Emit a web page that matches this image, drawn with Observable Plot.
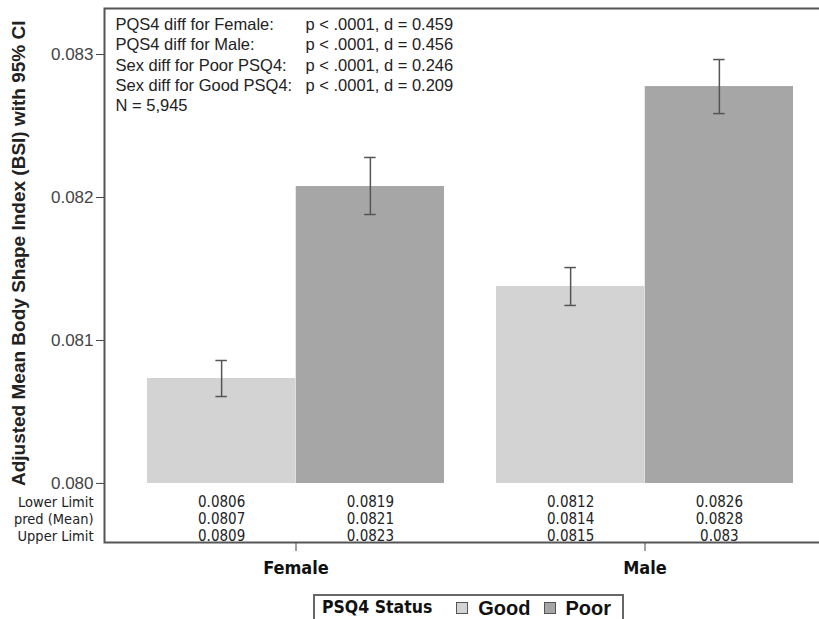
<!DOCTYPE html>
<html><head><meta charset="utf-8">
<script src="https://cdn.jsdelivr.net/npm/d3@7"></script>
<script src="https://cdn.jsdelivr.net/npm/@observablehq/plot@0.6"></script>
<style>
body{margin:0;background:#fff;}
#wrap{position:relative;width:819px;height:619px;overflow:hidden;background:#fff;}
#legend{position:absolute;left:313px;top:594px;width:311px;height:28px;border:2px solid #666;box-sizing:border-box;
  font-family:"Liberation Sans Narrow","DejaVu Sans Condensed","Liberation Sans",Arial,sans-serif;font-weight:bold;color:#111;
  display:flex;align-items:center;padding:0 0 0 7px;white-space:nowrap;line-height:1;}
#legend .t{font-size:17.5px;margin-right:24px;flex-shrink:0;}
#legend .sw{display:inline-block;flex:0 0 12px;width:12px;height:12px;border:1px solid #555;margin-right:10px;box-sizing:border-box;}
#legend .k{font-family:"Liberation Sans",Arial,sans-serif;font-size:20px;margin-right:13px;flex-shrink:0;}
</style></head><body><div id="wrap"><div id="chart"></div><div id="legend"></div></div>
<script>
// ---- data ----
const sexes = ["Female", "Male"];
const statuses = ["Good", "Poor"];
const barSex = ["Female", "Female", "Male", "Male"];
const barStatus = ["Good", "Poor", "Good", "Poor"];
const meanBSI = [0.080734, 0.082077, 0.081378, 0.082776];
const lowerCI = [0.080608, 0.081881, 0.081245, 0.082587];
const upperCI = [0.080860, 0.082280, 0.081510, 0.082965];
const lowerText = ["0.0806", "0.0819", "0.0812", "0.0826"];
const meanText = ["0.0807", "0.0821", "0.0814", "0.0828"];
const upperText = ["0.0809", "0.0823", "0.0815", "0.083"];
const rowNames = ["Lower Limit", "pred (Mean)", "Upper Limit"];
const yTicks = [0.080, 0.081, 0.082, 0.083];
const statsLabels = ["PQS4 diff for Female:", "PQS4 diff for Male:", "Sex diff for Poor PSQ4:", "Sex diff for Good PSQ4:", "N = 5,945"];
const statsValues = ["p < .0001, d = 0.459", "p < .0001, d = 0.456", "p < .0001, d = 0.246", "p < .0001, d = 0.209", ""];
const yLabel = "Adjusted Mean Body Shape Index (BSI) with 95% CI";
const legendTitle = "PSQ4 Status";
const colors = ["#d3d3d3", "#a6a6a6"];

// ---- layout ----
const W = 819, H = 590, mL = 104, mR = -16, mT = 8, mB = 48;
const padIn = 0.149, padOut = 0.12;
const bw = d3.scaleBand(sexes, [mL, W - mR]).paddingInner(padIn).paddingOuter(padOut).bandwidth();
const half = bw / 2, quarter = bw / 4, cap = 6;

const data = barSex.map((s, i) => ({
  sex: s, status: barStatus[i], mean: meanBSI[i], lo: lowerCI[i], hi: upperCI[i],
  tLo: lowerText[i], tMean: meanText[i], tHi: upperText[i]
}));
const good = data.filter(d => d.status === "Good");
const poor = data.filter(d => d.status === "Poor");
const base = yTicks[0];
const narrow = "'Liberation Sans Narrow','DejaVu Sans Condensed','Liberation Sans',Arial,sans-serif";
const rowDy = [18.5, 35.5, 53];

function groupMarks(rows, side) {
  const off = side * quarter;
  return [
    Plot.barY(rows, {x: "sex", y1: () => base, y2: "mean", fill: "status",
      insetLeft: side > 0 ? half : 0, insetRight: side < 0 ? half : 0}),
    Plot.ruleX(rows, {x: "sex", y1: "lo", y2: "hi", dx: off, stroke: "#555", strokeWidth: 1.5}),
    Plot.tickY(rows, {x: "sex", y: "lo", stroke: "#555", strokeWidth: 1.5,
      insetLeft: half + off - cap, insetRight: half - off - cap}),
    Plot.tickY(rows, {x: "sex", y: "hi", stroke: "#555", strokeWidth: 1.5,
      insetLeft: half + off - cap, insetRight: half - off - cap}),
    ...["tLo", "tMean", "tHi"].map((k, j) => Plot.text(rows, {x: "sex", y: () => base, text: k,
      dx: off, dy: rowDy[j], fontFamily: narrow, fontSize: 15, fill: "#222"}))
  ];
}

const chart = Plot.plot({
  width: W, height: H, marginLeft: mL, marginRight: mR, marginTop: mT, marginBottom: mB,
  style: {fontFamily: "'Liberation Sans',Arial,sans-serif", fontSize: "16px", color: "#333", background: "#fff"},
  x: {domain: sexes, paddingInner: padIn, paddingOuter: padOut},
  y: {domain: [0.079587, 0.083322]},
  color: {domain: statuses, range: colors},
  marks: [
    ...groupMarks(good, -1),
    ...groupMarks(poor, 1),
    Plot.axisY({ticks: yTicks, tickFormat: d3.format(".3f"), tickSize: 8, tickPadding: 3,
      fontSize: 17, label: null, stroke: "#444", fill: "#444"}),
    Plot.axisX({tickSize: 9, tickPadding: 10, label: null, fontWeight: "bold",
      fontSize: 18, fontFamily: narrow, fill: "#111", stroke: "#444"}),
    ...rowNames.map((r, j) => Plot.text([r], {frameAnchor: "left", y: () => base, text: d => d,
      dx: -11, dy: rowDy[j], textAnchor: "end", fontFamily: narrow, fontSize: 14.5, fill: "#222"})),
    Plot.text([yLabel], {frameAnchor: "left", y: () => 0.08161, text: d => d, rotate: -90, dx: -86,
      textAnchor: "middle", fontWeight: "bold", fontSize: 19, fill: "#222"}),
    Plot.text([statsLabels.join("\n")], {frameAnchor: "top-left", text: d => d, dx: 11, dy: 7.5,
      lineAnchor: "top", lineHeight: 1.22, fontSize: 16.5, fill: "#222"}),
    Plot.text([statsValues.join("\n")], {frameAnchor: "top-left", text: d => d, dx: 201, dy: 7.5,
      lineAnchor: "top", lineHeight: 1.22, fontSize: 16.5, fill: "#222"}),
    Plot.frame({stroke: "#555", strokeWidth: 2})
  ]
});
document.getElementById("chart").appendChild(chart);

// legend
const lg = d3.select("#legend");
lg.append("span").attr("class", "t").text(legendTitle);
statuses.forEach((s, i) => {
  lg.append("span").attr("class", "sw").style("background", colors[i]);
  lg.append("span").attr("class", "k").text(s);
});
</script></body></html>
